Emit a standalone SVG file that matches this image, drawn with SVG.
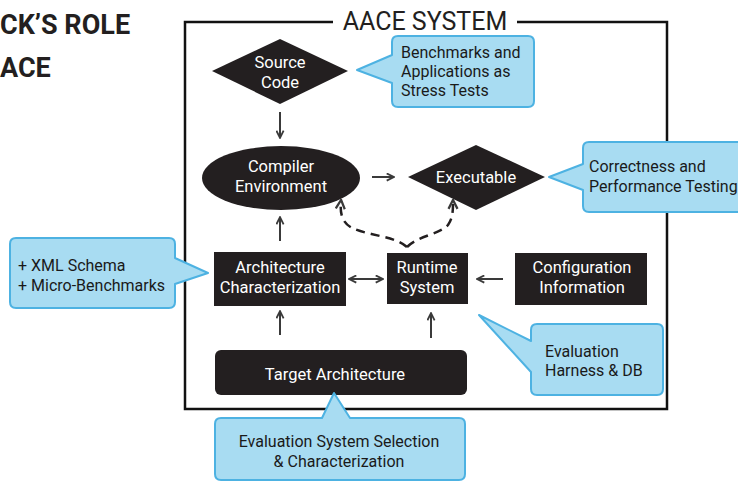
<svg xmlns="http://www.w3.org/2000/svg" width="738" height="481" viewBox="0 0 738 481">
  <style>
    .node { fill: #231f20; }
    .lbl { font-family: Roboto, "Liberation Sans", sans-serif; font-size: 16.5px; fill: #ffffff; text-anchor: middle; }
    .note { fill: #a8dcf2; stroke: #4db2e2; stroke-width: 2; stroke-linejoin: round; }
    .ntxt { font-family: Roboto, "Liberation Sans", sans-serif; font-size: 16px; fill: #1a1a1a; }
    .edge { stroke: #3a3a3a; stroke-width: 2; fill: none; marker-end: url(#ah); }
    .dash { stroke: #231f20; stroke-width: 2.5; fill: none; stroke-dasharray: 9 6; marker-end: url(#ah); }
  </style>
  <defs>
    <marker id="ah" viewBox="0 0 10 10" refX="8" refY="5" markerWidth="4.5" markerHeight="4.5" orient="auto-start-reverse">
      <path d="M1,1 L9,5 L1,9" fill="none" stroke="#3a3a3a" stroke-width="2"/>
    </marker>
  </defs>
  <rect width="738" height="481" fill="#ffffff"/>

  <!-- heading -->
  <g id="heading" font-family="Roboto, 'Liberation Sans', sans-serif" font-weight="bold" font-size="27" fill="#231f20">
    <text x="0" y="34">CK’S ROLE</text>
    <text x="0" y="77">ACE</text>
  </g>

  <!-- system frame -->
  <g id="frame">
    <path d="M333,22 H185 V409 H667 V22 H517" fill="none" stroke="#111" stroke-width="2.5"/>
    <text x="425" y="30" font-family="Roboto, 'Liberation Sans', sans-serif" font-size="25" fill="#231f20" text-anchor="middle">AACE SYSTEM</text>
  </g>

  <!-- connectors -->
  <g id="connectors">
    <line class="edge" x1="280" y1="112" x2="280" y2="137"/>
    <line class="edge" x1="372" y1="177" x2="393" y2="177"/>
    <line class="edge" x1="280" y1="241" x2="280" y2="218"/>
    <line class="edge" x1="280" y1="335" x2="280" y2="312"/>
    <line class="edge" x1="431" y1="338" x2="431" y2="314"/>
    <line class="edge" x1="503" y1="279" x2="478" y2="279"/>
    <line class="edge" x1="350" y1="279" x2="382" y2="279" style="marker-start:url(#ah)"/>
    <path class="dash" d="M407,247 C395,236 370,236 352,228 C341,222 340,212 341,201"/>
    <path class="dash" d="M407,247 C418,236 440,234 448,225 C453,218 453,210 453,201"/>
  </g>

  <!-- nodes -->
  <g id="source-code">
    <polygon class="node" points="212,71 280,39 348,71 280,104"/>
    <text class="lbl" x="280" y="68">Source</text>
    <text class="lbl" x="280" y="88">Code</text>
  </g>
  <g id="compiler-environment">
    <ellipse class="node" cx="281" cy="178" rx="79" ry="32"/>
    <text class="lbl" x="281" y="172">Compiler</text>
    <text class="lbl" x="281" y="192">Environment</text>
  </g>
  <g id="executable">
    <polygon class="node" points="408,177 476,145 545,177 476,210"/>
    <text class="lbl" x="476" y="183">Executable</text>
  </g>
  <g id="architecture-characterization">
    <rect class="node" x="214" y="252" width="132" height="54"/>
    <text class="lbl" x="280" y="273">Architecture</text>
    <text class="lbl" x="280" y="293">Characterization</text>
  </g>
  <g id="runtime-system">
    <rect class="node" x="387" y="253" width="81" height="51"/>
    <text class="lbl" x="427" y="273">Runtime</text>
    <text class="lbl" x="427" y="293">System</text>
  </g>
  <g id="configuration-information">
    <rect class="node" x="515" y="253" width="132" height="52"/>
    <text class="lbl" x="582" y="273">Configuration</text>
    <text class="lbl" x="582" y="293">Information</text>
  </g>
  <g id="target-architecture">
    <rect class="node" x="215" y="350" width="252" height="45" rx="6"/>
    <text class="lbl" x="335" y="380">Target Architecture</text>
  </g>

  <!-- callouts -->
  <g id="note-benchmarks">
    <path class="note" d="M398,36 H528 Q534,36 534,42 V101 Q534,107 528,107 H398 Q392,107 392,101 V83 L357,70 L392,55 V42 Q392,36 398,36 Z"/>
    <text class="ntxt" x="401" y="58">Benchmarks and</text>
    <text class="ntxt" x="401" y="77">Applications as</text>
    <text class="ntxt" x="401" y="96">Stress Tests</text>
  </g>
  <g id="note-testing">
    <path class="note" d="M589,142 H745 V212 H589 Q583,212 583,206 V190 L549,177 L583,164 V148 Q583,142 589,142 Z"/>
    <text class="ntxt" x="589" y="172">Correctness and</text>
    <text class="ntxt" x="589" y="192">Performance Testing</text>
  </g>
  <g id="note-schema">
    <path class="note" d="M16,238 H169 Q175,238 175,244 V258 L208,273 L175,284 V302 Q175,308 169,308 H16 Q10,308 10,302 V244 Q10,238 16,238 Z"/>
    <text class="ntxt" x="18" y="271">+ XML Schema</text>
    <text class="ntxt" x="18" y="291">+ Micro-Benchmarks</text>
  </g>
  <g id="note-harness">
    <path class="note" d="M537,324 H657 Q663,324 663,330 V389 Q663,395 657,395 H537 Q531,395 531,389 V372 L479,315 L531,341 V330 Q531,324 537,324 Z"/>
    <text class="ntxt" x="545" y="357">Evaluation</text>
    <text class="ntxt" x="545" y="376">Harness &amp; DB</text>
  </g>
  <g id="note-selection">
    <path class="note" d="M221,418 H322 L334,393 L350,418 H459 Q465,418 465,424 V474 Q465,480 459,480 H221 Q215,480 215,474 V424 Q215,418 221,418 Z"/>
    <text class="ntxt" x="339" y="447" text-anchor="middle">Evaluation System Selection</text>
    <text class="ntxt" x="339" y="467" text-anchor="middle">&amp; Characterization</text>
  </g>
</svg>
